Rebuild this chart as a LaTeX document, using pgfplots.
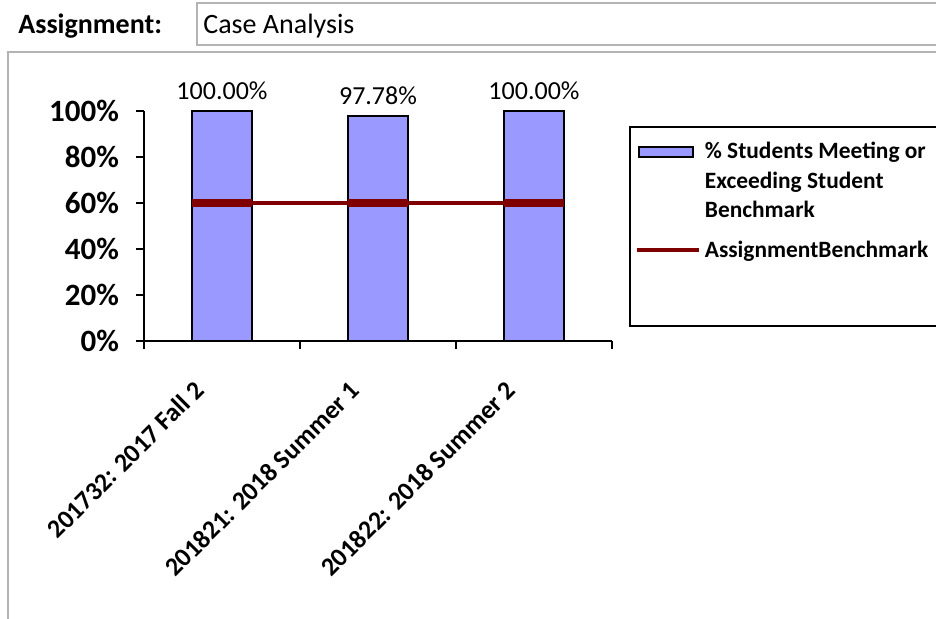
\documentclass[border=0pt]{standalone}
\usepackage{pgfplots}
\pgfplotsset{compat=1.18}
\usepackage{fontspec}
\setmainfont{Carlito}

\definecolor{barblue}{HTML}{9999FF}
\definecolor{benchred}{HTML}{800000}
\definecolor{framegray}{HTML}{B4B4B4}

\begin{document}
\begin{tikzpicture}
\path[use as bounding box, clip] (0,0) rectangle (468pt,-309pt);
% page furniture, in pixel units of the reference
\begin{scope}[x=0.5pt,y=-0.5pt]
  \draw[framegray, line width=1.2pt] (8,52) rectangle (980,660);
  \draw[framegray, line width=1pt] (197,3) rectangle (980,45);
  \node[anchor=base west, inner sep=0pt, font=\bfseries\fontsize{14}{16}\selectfont] at (18,33) {Assignment:};
  \node[anchor=base west, inner sep=0pt, font=\fontsize{14}{16}\selectfont] at (203,33) {Case Analysis};
  \draw[black, line width=0.8pt] (630,127) rectangle (980,326);
  \coordinate (o) at (144,341);
\end{scope}

\begin{axis}[
  at={(o)}, anchor=south west,
  scale only axis, width=234pt, height=115pt,
  xmin=-0.5, xmax=2.5, ymin=0, ymax=100,
  clip=false,
  axis x line*=bottom, axis y line*=left,
  axis line style={black, line width=0.9pt},
  tick align=outside, major tick length=4pt,
  tick style={black, line width=0.8pt},
  ytick={0,20,40,60,80,100},
  yticklabel={\pgfmathprintnumber{\tick}\%},
  yticklabel style={font=\bfseries\fontsize{15.5}{17}\selectfont, xshift=-5pt},
  /pgf/number format/assume math mode=true,
  xtick={-0.5,0.5,1.5,2.5},
  xticklabels={},
  extra x ticks={0,1,2},
  extra x tick labels={201732: 2017 Fall 2, 201821: 2018 Summer 1, 201822: 2018 Summer 2},
  extra x tick style={major tick length=0pt,
    xticklabel style={yshift=-20pt, xshift=-9pt, rotate=45, anchor=east,
      font=\bfseries\fontsize{13}{15}\selectfont}},
  legend style={at={(axis description cs:1.048,0.883)}, anchor=north west,
    draw=none, fill=none, inner sep=0pt, align=left, row sep=6pt,
    font=\bfseries\fontsize{11.7}{14.75}\selectfont},
  legend cell align=left,
]
\addplot[ybar, bar width=30pt, fill=barblue, draw=black, line width=0.8pt,
  nodes near coords={\pgfmathprintnumber[fixed,fixed zerofill,precision=2]{\pgfplotspointmeta}\%},
  nodes near coords style={font=\fontsize{13}{15}\selectfont, yshift=2pt},
  legend image code/.code={\draw[fill=barblue, draw=black, line width=0.8pt] (0pt,12.3pt) rectangle (27pt,17.3pt);}]
  coordinates {(0,100) (1,97.78) (2,100)};
\addlegendentry{\% Students Meeting or\\Exceeding Student\\Benchmark}
\addplot[benchred, line width=2.2pt, mark=-, mark size=15pt, mark options={line width=3.8pt},
  legend image code/.code={\draw[benchred, line width=2pt] (-1pt,0pt) -- (30pt,0pt);}]
  coordinates {(0,60) (1,60) (2,60)};
\addlegendentry{AssignmentBenchmark}
\end{axis}
\end{tikzpicture}
\end{document}
